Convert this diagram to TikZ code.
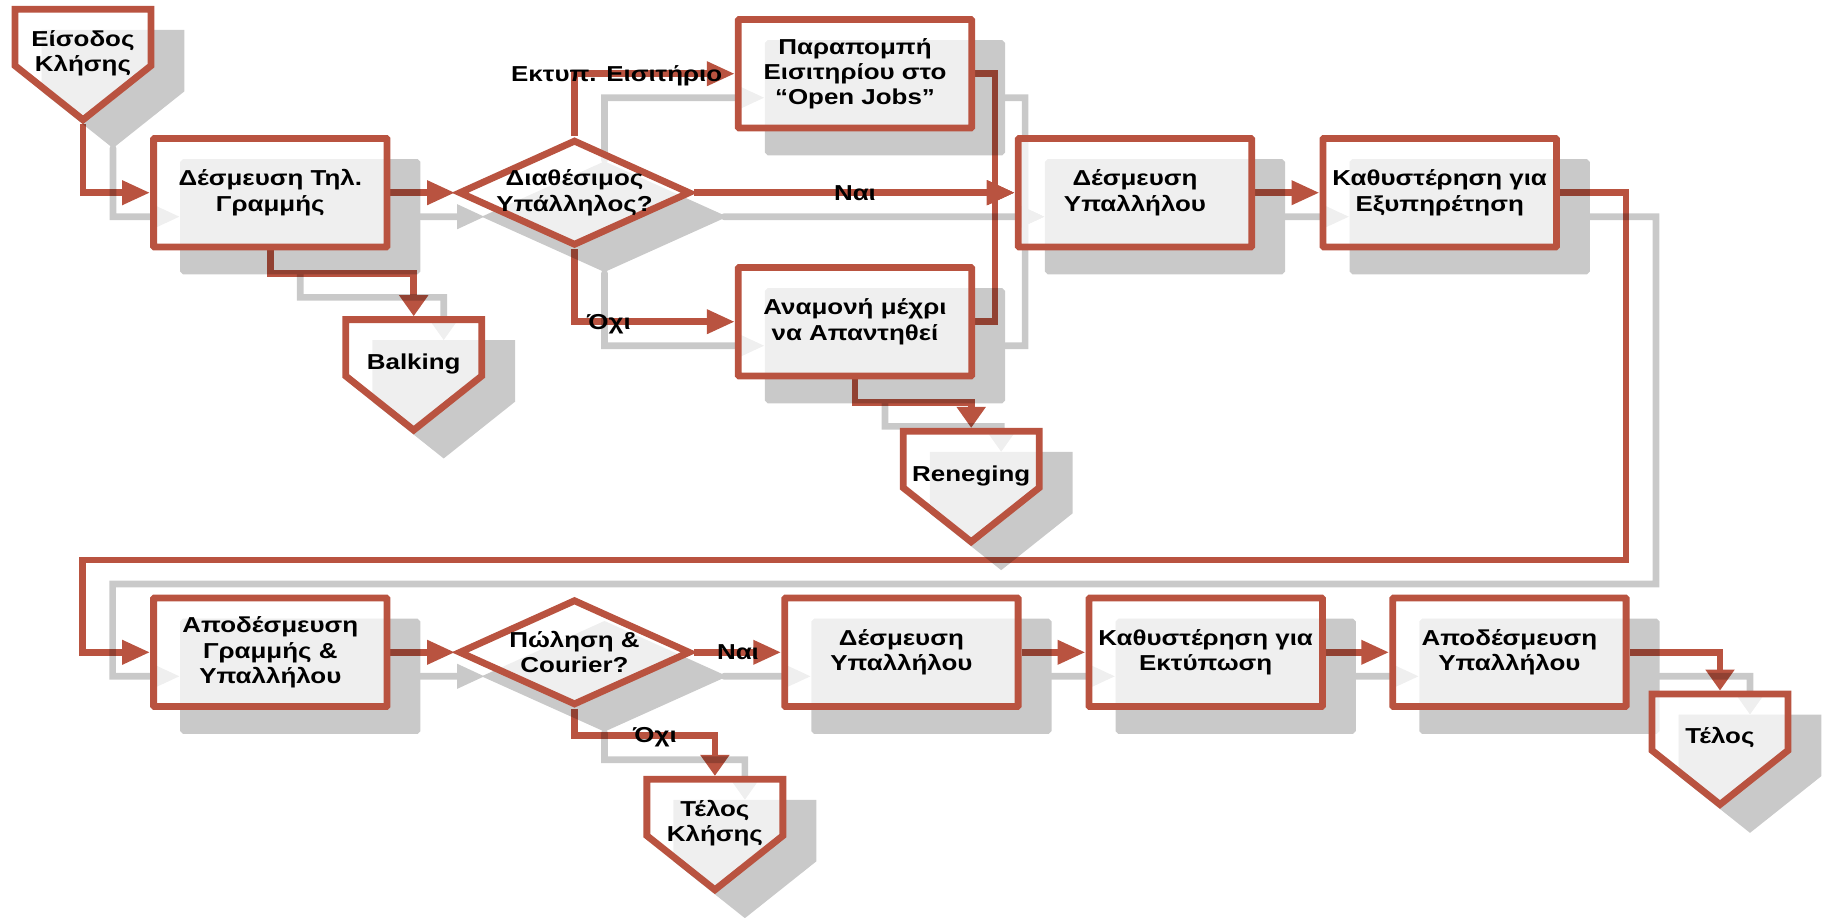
\documentclass[tikz,border=0pt]{standalone}
\usepackage{fontspec}
\setmainfont{Liberation Sans}[FakeStretch=1.2]
\usetikzlibrary{arrows.meta,shapes.geometric,shapes.symbols}
\definecolor{brick}{RGB}{185,83,64}
\pgfdeclarelayer{back}
\pgfdeclarelayer{shade}
\pgfsetlayers{back,shade,main}

\newcommand{\lowtext}[1]{\raisebox{-0.44cm}[0pt][0pt]{\makebox[2.72cm]{\begin{tabular}{@{}c@{}}#1\end{tabular}}}}

\tikzset{
	every node/.style={font=\fontsize{12.3}{14.4}\selectfont\bfseries, line width=3.9pt},
	box/.style={rectangle, rounded corners=0.5pt, minimum width=4.67cm, minimum height=2.17cm, align=center, inner sep=0pt},
	dec/.style={diamond, aspect=2.13, minimum width=4.64cm, minimum height=2.12cm, align=center, inner xsep=-0.4cm, inner ysep=-0.2cm},
	term/.style={signal, signal to=south, signal pointer angle=103, minimum height=2.21cm, inner sep=0pt},
	hline/.style={line width=3.8pt, -{Triangle[length=0.56cm,width=0.46cm]}},
	vline/.style={line width=3.8pt, -{Triangle[length=0.42cm,width=0.56cm]}},
	lbl/.style={anchor=base, inner sep=0pt},
}

\newcommand{\flowshapes}{
	\node[term, look] (enter) at (83,37.5) {\lowtext{Είσοδος\\Κλήσης}};
	\node[box, look] (tel) at (270.3,192.7) {Δέσμευση Τηλ.\\Γραμμής};
	\node[dec, look] (avail) at (574.5,192.7) {Διαθέσιμος\\Υπάλληλος?};
	\node[box, look] (redirect) at (855,73.7) {Παραπομπή\\Εισιτηρίου στο\\“Open Jobs”};
	\node[box, look] (wait) at (855,321.7) {Αναμονή μέχρι\\να Απαντηθεί};
	\node[term, look] (balk) at (413.7,347.8) {\lowtext{Balking}};
	\node[term, look] (reneg) at (971.2,459.5) {\lowtext{Reneging}};
	\node[box, look] (clerk) at (1135,192.7) {Δέσμευση\\Υπαλλήλου};
	\node[box, look] (delay) at (1439.7,192.7) {Καθυστέρηση για\\Εξυπηρέτηση};
	\node[box, look] (release) at (270.3,652.3) {Αποδέσμευση\\Γραμμής \&\\Υπαλλήλου};
	\node[dec, look] (sale) at (574.5,652.3) {Πώληση \&\\Courier?};
	\node[box, look] (clerkb) at (901.4,652.3) {Δέσμευση\\Υπαλλήλου};
	\node[box, look] (print) at (1205.7,652.3) {Καθυστέρηση για\\Εκτύπωση};
	\node[box, look] (free) at (1509.4,652.3) {Αποδέσμευση\\Υπαλλήλου};
	\node[term, look] (endcall) at (714.9,807.5) {\lowtext{Τέλος\\Κλήσης}};
	\node[term, look] (endall) at (1720,722.2) {\lowtext{Τέλος}};
	\coordinate (loopr) at (1626,560);
	\coordinate (loopl) at (82.6,560);
}

\newcommand{\flowlinks}{
	\draw[wire, hline] (enter.south) |- (tel.west);
	\draw[wire, hline] (tel.east) -- (avail.west);
	\draw[wire, vline] (tel.south) -- ++(0,23) -| (balk.north);
	\draw[wire, hline] (avail.north) |- (redirect.west);
	\draw[wire, hline] (avail.east) -- (clerk.west);
	\draw[wire, hline] (avail.south) |- (wait.west);
	\draw[wire, hline] (redirect.east) -- ++(20,0) |- (clerk.west);
	\draw[wire, hline] (wait.east) -- ++(20,0) |- (clerk.west);
	\draw[wire, vline] (wait.south) -- ++(0,23) -| (reneg.north);
	\draw[wire, hline] (clerk.east) -- (delay.west);
	\draw[wire, hline] (delay.east) -| (loopr) -- (loopl) |- (release.west);
	\draw[wire, hline] (release.east) -- (sale.west);
	\draw[wire, hline] (sale.east) -- (clerkb.west);
	\draw[wire, vline] (sale.south) -- ++(0,27) -| (endcall.north);
	\draw[wire, hline] (clerkb.east) -- (print.west);
	\draw[wire, hline] (print.east) -- (free.west);
	\draw[wire, vline] (free.east) -| (endall.north);
}

\begin{document}
\begin{tikzpicture}[x=0.02cm, y=-0.02cm]
	\useasboundingbox (0,0) rectangle (1827,917);

	\begin{scope}[look/.style={draw=brick, fill=white, fill opacity=0.7, text opacity=1}]
		\flowshapes
	\end{scope}

	\node[lbl] (ticket) at (616.7,81.7) {Εκτυπ. Εισιτήριο};
	\node[lbl] (yesa) at (855,200.4) {Ναι};
	\node[lbl] (noa) at (609,329.4) {Όχι};
	\node[lbl] (yesb) at (738,659.9) {Ναι};
	\node[lbl] (nob) at (655,742) {Όχι};

	\begin{pgfonlayer}{back}
		\begin{scope}[wire/.style={draw=brick}]
			\flowlinks
		\end{scope}
	\end{pgfonlayer}

	\begin{pgfonlayer}{shade}
		\begin{scope}[shift={(30,24)}, name prefix=s-, transparency group, opacity=0.21,
				look/.style={draw=black, fill=black}, wire/.style={draw=black, line cap=round}]
			\flowshapes
			\flowlinks
		\end{scope}
	\end{pgfonlayer}
\end{tikzpicture}
\end{document}
